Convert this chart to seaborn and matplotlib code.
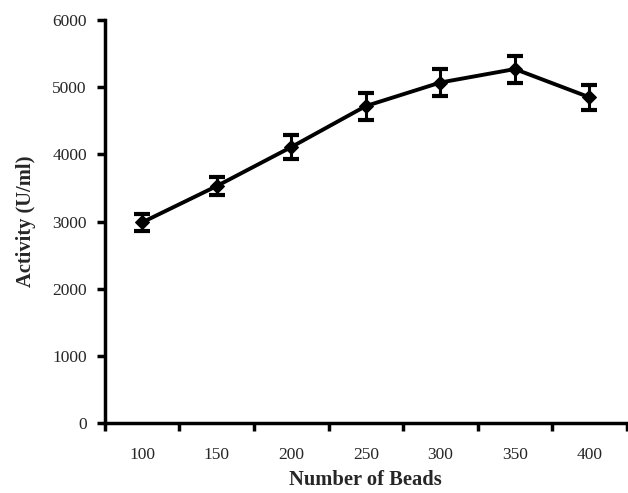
import matplotlib
matplotlib.use("Agg")
import matplotlib.pyplot as plt
import seaborn as sns
import numpy as np
import pandas as pd

beads = ["100", "150", "200", "250", "300", "350", "400"]
activity = [2990, 3530, 4110, 4720, 5070, 5270, 4850]
errors = [130, 140, 180, 200, 200, 200, 190]
yticks = [0, 1000, 2000, 3000, 4000, 5000, 6000]

sns.set_theme(style="ticks")
plt.rcParams['font.family'] = ['Liberation Serif', 'DejaVu Serif']

fig = plt.figure(figsize=(6.28, 4.93), dpi=100)
ax = fig.add_axes([0.167, 0.141, 0.831, 0.8185])

df = pd.DataFrame({"pos": np.arange(len(beads)), "activity": activity})
ax.errorbar(df["pos"], df["activity"], yerr=errors, fmt="none", ecolor="black",
            elinewidth=2.2, capsize=6, capthick=3, zorder=2)
sns.lineplot(data=df, x="pos", y="activity", ax=ax, color="black", lw=2.8,
             marker="D", markersize=7, markeredgecolor="black", zorder=3)

ax.set_xlim(-0.5, len(beads) - 0.5)
ax.set_ylim(0, 6000)
ax.set_yticks(yticks)
ax.set_yticklabels([str(v) for v in yticks], fontsize=12.5)
ax.set_xticks(np.arange(len(beads)))
ax.set_xticklabels(beads, fontsize=12.5)
ax.set_xticks(np.arange(len(beads) + 1) - 0.5, minor=True)
ax.tick_params(axis="x", which="major", length=0, pad=17)
ax.tick_params(axis="x", which="minor", length=6, width=2.5, direction="out", color="black")
ax.tick_params(axis="y", length=6, width=2.5, direction="out", color="black", pad=7)

for s in ["left", "bottom"]:
    ax.spines[s].set_linewidth(2.5)
    ax.spines[s].set_color("black")
sns.despine(ax=ax)

ax.set_xlabel("Number of Beads", fontsize=14.8, fontweight="bold", labelpad=5)
ax.set_ylabel("Activity (U/ml)", fontsize=14.8, fontweight="bold", labelpad=12)

fig.savefig("out.png", dpi=100)
